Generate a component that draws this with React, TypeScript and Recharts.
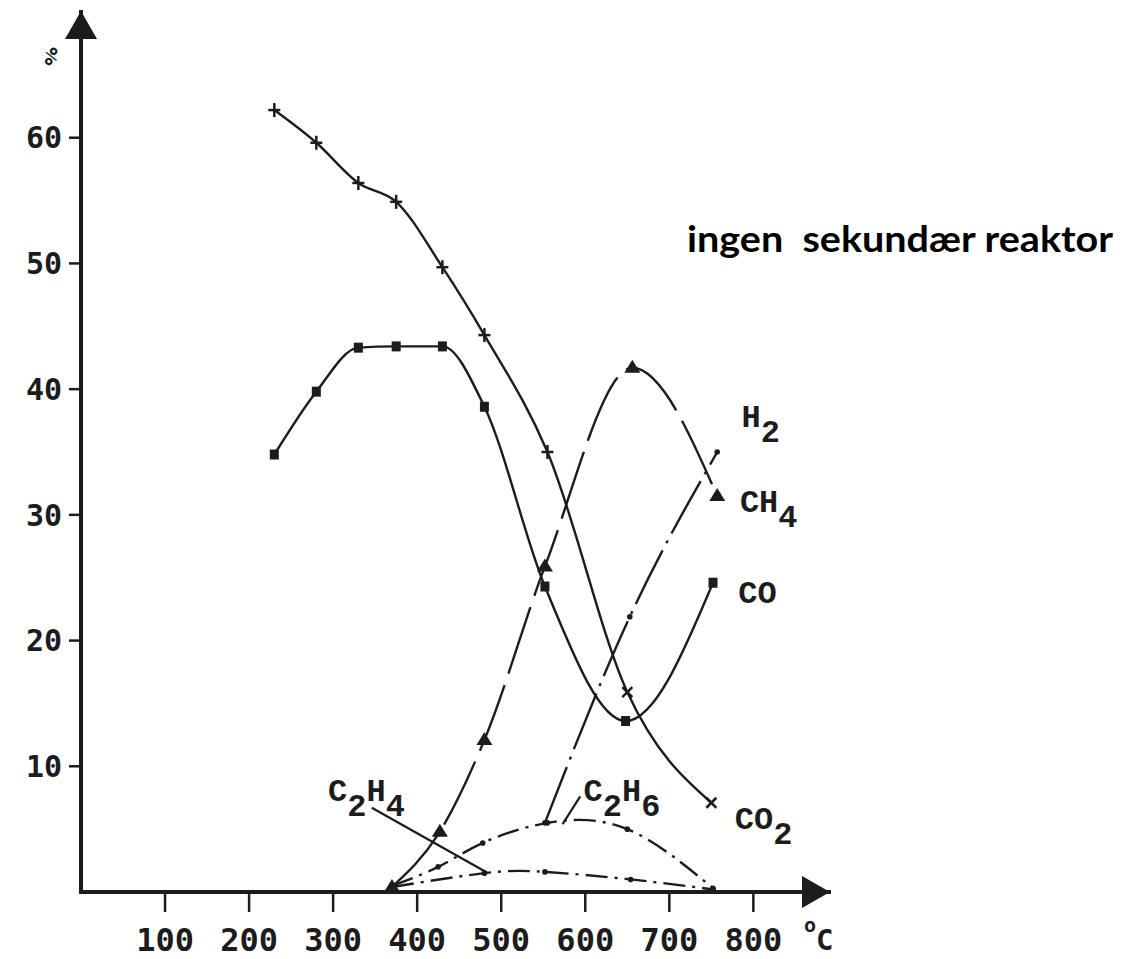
import { LineChart, Line, XAxis, YAxis, ReferenceDot, ReferenceLine } from "recharts";

// temperatures (°C) and gas fractions (%)
const CO2_T = [230, 280, 330, 375, 430, 480, 555, 650, 750];
const CO2_V = [62.2, 59.6, 56.4, 54.9, 49.7, 44.3, 35.0, 15.9, 7.1];
const CO_T = [230, 280, 330, 375, 430, 480, 552, 648, 752];
const CO_V = [34.8, 39.8, 43.3, 43.4, 43.4, 38.6, 24.3, 13.6, 24.6];
const CH4_T = [370, 427, 480, 552, 656, 757];
const CH4_V = [0.4, 4.8, 12.1, 25.9, 41.7, 31.5];
const H2_T = [552, 653, 757];
const H2_V = [5.5, 21.9, 35.0];
const C2H6_T = [370, 425, 478, 555, 650, 752];
const C2H6_V = [0.5, 2.0, 3.9, 5.5, 5.0, 0.3];
const C2H4_T = [370, 480, 552, 654, 752];
const C2H4_V = [0.4, 1.5, 1.6, 1.0, 0.2];

const X_TICKS = [100, 200, 300, 400, 500, 600, 700, 800];
const Y_TICKS = [10, 20, 30, 40, 50, 60];

// series name parts: [text, isSubscript]
const SERIES_LABELS: Array<{ key: string; parts: Array<[string, boolean]> }> = [
  { key: "H2", parts: [["H", false], ["2", true]] },
  { key: "CH4", parts: [["CH", false], ["4", true]] },
  { key: "CO", parts: [["CO", false]] },
  { key: "CO2", parts: [["CO", false], ["2", true]] },
  { key: "C2H4", parts: [["C", false], ["2", true], ["H", false], ["4", true]] },
  { key: "C2H6", parts: [["C", false], ["2", true], ["H", false], ["6", true]] },
];

// label anchors in data units (°C, %)
const LABEL_AT: Record<string, [number, number]> = {
  H2: [786, 37.0],
  CH4: [784, 30.2],
  CO: [782, 23.0],
  CO2: [778, 5.0],
  C2H4: [294, 7.2],
  C2H6: [598, 7.2],
};

const POINTERS: Array<[[number, number], [number, number]]> = [
  [[346, 6.7], [483, 1.55]],
  [[594, 7.6], [573, 5.4]],
];

const zip = (t: number[], v: number[]) => t.map((x, i) => ({ t: x, v: v[i] }));

const INK = "#1c1c1c";
const MONO = "'DejaVu Sans Mono', monospace";
const TYPE = "'Liberation Mono', 'Courier New', monospace";

const crossDot = (p: any) => {
  const { cx, cy, payload, index } = p;
  if (payload.t > 600) {
    return (
      <g key={`x${index}`} stroke={INK} strokeWidth={2.5}>
        <line x1={cx - 5} y1={cy - 5} x2={cx + 5} y2={cy + 5} />
        <line x1={cx - 5} y1={cy + 5} x2={cx + 5} y2={cy - 5} />
      </g>
    );
  }
  return (
    <g key={`x${index}`} stroke={INK} strokeWidth={2.5}>
      <line x1={cx - 6} y1={cy} x2={cx + 6} y2={cy} />
      <line x1={cx} y1={cy - 7} x2={cx} y2={cy + 7} />
    </g>
  );
};

const squareDot = (p: any) => (
  <rect key={`s${p.index}`} x={p.cx - 4.5} y={p.cy - 5} width={9} height={10} fill={INK} />
);

const triDot = (p: any) => (
  <polygon
    key={`t${p.index}`}
    points={`${p.cx},${p.cy - 8} ${p.cx - 8},${p.cy + 5} ${p.cx + 8},${p.cy + 5}`}
    fill={INK}
  />
);

const smallDot = (p: any) => <circle key={`d${p.index}`} cx={p.cx} cy={p.cy} r={2.8} fill={INK} />;

const labelShape = (parts: Array<[string, boolean]>) => (p: any) => {
  let down = false;
  return (
    <text x={p.cx} y={p.cy} fontFamily={TYPE} fontWeight="bold" fontSize={32} fill={INK}>
      {parts.map(([s, sub], i) => {
        const dy = sub && !down ? 15 : !sub && down ? -15 : 0;
        down = sub;
        return (
          <tspan key={i} dy={dy}>
            {s}
          </tspan>
        );
      })}
    </text>
  );
};

export default function App() {
  return (
    <div style={{ position: "absolute", left: 0, top: 0, width: 1124, height: 959, background: "#fff" }}>
      <svg width={0} height={0} style={{ position: "absolute" }}>
        <defs>
          <marker
            id="arrowHead"
            viewBox="0 0 28 32"
            refX={27}
            refY={16}
            markerWidth={28}
            markerHeight={32}
            markerUnits="userSpaceOnUse"
            orient="auto-start-reverse"
          >
            <path d="M0,0 L28,16 L0,32 Z" fill={INK} />
          </marker>
        </defs>
      </svg>
      <LineChart width={1124} height={959} margin={{ top: 12, right: 295, bottom: 7, left: 11 }}>
        <XAxis
          type="number"
          dataKey="t"
          domain={[0, 890]}
          ticks={X_TICKS}
          allowDataOverflow
          height={60}
          tickSize={20}
          tickMargin={16}
          axisLine={{ stroke: INK, strokeWidth: 4, strokeLinecap: "square", markerEnd: "url(#arrowHead)" }}
          tickLine={{ stroke: INK, strokeWidth: 2.5 }}
          tick={{ fill: INK, fontFamily: MONO, fontWeight: "bold", fontSize: 32 }}
        />
        <YAxis
          type="number"
          dataKey="v"
          domain={[0, 70]}
          ticks={Y_TICKS}
          allowDataOverflow
          width={70}
          tickSize={12}
          tickMargin={7}
          axisLine={{ stroke: INK, strokeWidth: 4, strokeLinecap: "square", markerStart: "url(#arrowHead)" }}
          tickLine={{ stroke: INK, strokeWidth: 2.5 }}
          tick={{ fill: INK, fontFamily: MONO, fontWeight: "bold", fontSize: 30 }}
        />
        <Line data={zip(CO2_T, CO2_V)} dataKey="v" type="monotone" stroke={INK} strokeWidth={2.4} dot={crossDot} isAnimationActive={false} />
        <Line data={zip(CO_T, CO_V)} dataKey="v" type="monotone" stroke={INK} strokeWidth={2.4} dot={squareDot} isAnimationActive={false} />
        <Line data={zip(CH4_T, CH4_V)} dataKey="v" type="monotone" stroke={INK} strokeWidth={2.4} strokeDasharray="70 12" dot={triDot} isAnimationActive={false} />
        <Line data={zip(H2_T, H2_V)} dataKey="v" type="monotone" stroke={INK} strokeWidth={2.4} strokeDasharray="60 8 3 8" dot={smallDot} isAnimationActive={false} />
        <Line data={zip(C2H6_T, C2H6_V)} dataKey="v" type="natural" stroke={INK} strokeWidth={2.4} strokeDasharray="22 7 3 7" dot={smallDot} isAnimationActive={false} />
        <Line data={zip(C2H4_T, C2H4_V)} dataKey="v" type="natural" stroke={INK} strokeWidth={2.4} strokeDasharray="22 7 3 7" dot={smallDot} isAnimationActive={false} />
        {POINTERS.map((seg, i) => (
          <ReferenceLine
            key={`p${i}`}
            segment={[
              { x: seg[0][0], y: seg[0][1] },
              { x: seg[1][0], y: seg[1][1] },
            ]}
            stroke={INK}
            strokeWidth={2.2}
          />
        ))}
        {SERIES_LABELS.map((l) => (
          <ReferenceDot
            key={l.key}
            x={LABEL_AT[l.key][0]}
            y={LABEL_AT[l.key][1]}
            r={0}
            ifOverflow="visible"
            shape={labelShape(l.parts)}
          />
        ))}
      </LineChart>
      <svg
        width={1124}
        height={959}
        style={{ position: "absolute", left: 0, top: 0, pointerEvents: "none" }}
      >
        <text
          x={687}
          y={252}
          fontFamily="Lato, 'Open Sans', sans-serif"
          fontWeight="bold"
          fontSize={36}
          fill="#000"
          textLength={426}
          lengthAdjust="spacingAndGlyphs"
          style={{ whiteSpace: "pre" }}
        >
          ingen  sekundær reaktor
        </text>
        <text x={44} y={68} fontFamily={MONO} fontWeight="bold" fontSize={24} fill={INK} transform="rotate(60 54 58)">
          %
        </text>
        <text x={804} y={932} fontFamily={MONO} fontWeight="bold" fontSize={20} fill={INK}>
          o
        </text>
        <text x={816} y={950} fontFamily={MONO} fontWeight="bold" fontSize={29} fill={INK}>
          C
        </text>
      </svg>
    </div>
  );
}
